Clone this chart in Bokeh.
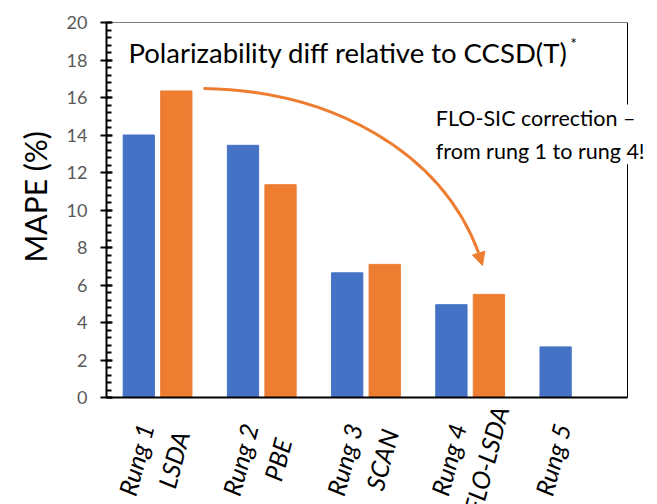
from bokeh.plotting import figure
from bokeh.models import (FixedTicker, Label, Arrow, NormalHead, Range1d, Title)
from bokeh.core.properties import value
from bokeh.embed import file_html
from bokeh.resources import INLINE

# ---- data ----
rungs = ["Rung 1", "Rung 2", "Rung 3", "Rung 4", "Rung 5"]
rung_mape = [14.0, 13.45, 6.65, 4.95, 2.7]
methods = ["LSDA", "PBE", "SCAN", "FLO-LSDA"]
method_mape = [16.35, 11.35, 7.1, 5.5]
y_ticks = [0, 2, 4, 6, 8, 10, 12, 14, 16, 18, 20]

BLUE = "#4472C4"
ORANGE = "#ED7D31"
FONT = "Lato"

GROUP = 100          # x units per group
BLUE_OFF = 31        # blue bar center within group
ORANGE_OFF = 67      # orange bar center within group
BAR_W = 30
X_MAX = GROUP * len(rungs)
Y_MIN, Y_MAX = 0, 20

blue_x = [i * GROUP + BLUE_OFF for i in range(len(rungs))]
orange_x = [i * GROUP + ORANGE_OFF for i in range(len(methods))]

# frame extends right/below the chart box so labels and the note are not clipped
FRAME_W, FRAME_H = 551, 482
PX_X = 521 / X_MAX
PX_Y = 375 / (Y_MAX - Y_MIN)

p = figure(frame_width=FRAME_W, frame_height=FRAME_H, output_backend="svg",
           toolbar_location=None, x_axis_location=None,
           x_range=Range1d(0, FRAME_W / PX_X),
           y_range=Range1d(Y_MAX - FRAME_H / PX_Y, Y_MAX),
           min_border_left=106, min_border_right=0, min_border_top=22,
           min_border_bottom=0)
p.outline_line_color = None
p.grid.visible = False

p.vbar(x=blue_x, top=rung_mape, width=BAR_W, color=BLUE)
p.vbar(x=orange_x, top=method_mape, width=BAR_W, color=ORANGE)

# chart box (bottom, top, right)
p.segment(x0=[0], y0=[Y_MIN], x1=[X_MAX], y1=[Y_MIN], line_color="black", line_width=2)
p.segment(x0=[0, X_MAX], y0=[Y_MAX, Y_MIN], x1=[X_MAX, X_MAX], y1=[Y_MAX, Y_MAX],
          line_color="black", line_width=1)

# y axis
ya = p.yaxis[0]
ya.bounds = (Y_MIN, Y_MAX)
ya.ticker = FixedTicker(ticks=y_ticks,
                        minor_ticks=[round(0.4 * k, 1) for k in range(51)])
ya.major_label_text_font = FONT
ya.major_label_text_font_size = "18px"
ya.major_label_text_color = "#595959"
ya.major_label_standoff = 13
ya.axis_line_color = "black"
ya.axis_line_width = 2
ya.major_tick_line_color = "black"
ya.major_tick_line_width = 2
ya.major_tick_in = 6
ya.major_tick_out = 6
ya.minor_tick_line_color = "black"
ya.minor_tick_line_width = 2
ya.minor_tick_in = 5
ya.minor_tick_out = 0

p.add_layout(Title(text="MAPE (%)", align="left", offset=242, standoff=22,
                   text_font=FONT, text_font_size="30px",
                   text_font_style="normal", text_color="black"), "left")

# x category labels
LABEL_Y = -3.31
LABEL_DX = -3
label_x = [x + LABEL_DX for x in blue_x + orange_x]
p.text(x=label_x, y=[LABEL_Y] * len(label_x),
       text=rungs + methods, angle=1.31,
       text_align="center", text_baseline="middle",
       text_font=value(FONT), text_font_size="25px", text_font_style="italic",
       text_color="black")

# title inside frame
p.add_layout(Label(x=21, y=18.4, text="Polarizability diff relative to CCSD(T)",
                   text_font=FONT, text_font_size="27.5px", text_color="black",
                   text_baseline="middle", text_align="left"))
p.add_layout(Label(x=445, y=18.95, text="*",
                   text_font=FONT, text_font_size="16px", text_color="black",
                   text_baseline="middle", text_align="left"))

# annotation
p.add_layout(Label(x=316, y=14.03, text="FLO-SIC correction \u2013\nfrom rung 1 to rung 4!",
                   text_font=FONT, text_font_size="21.5px", text_color="black",
                   text_baseline="middle", text_align="left",
                   text_line_height=1.3,
                   background_fill_color="white", background_fill_alpha=1.0))

# arrow
p.bezier(x0=[93.1], y0=[16.48], x1=[357.0], y1=[7.73],
         cx0=[215.0], cy0=[16.37], cx1=[320.5], cy1=[13.17],
         line_color=ORANGE, line_width=3)
p.add_layout(Arrow(x_start=357.0, y_start=7.73, x_end=360.8, y_end=7.04,
                   line_color=ORANGE, line_width=3,
                   end=NormalHead(size=13, fill_color=ORANGE, line_color=ORANGE)))

open("out.html", "w").write(file_html(p, INLINE))
